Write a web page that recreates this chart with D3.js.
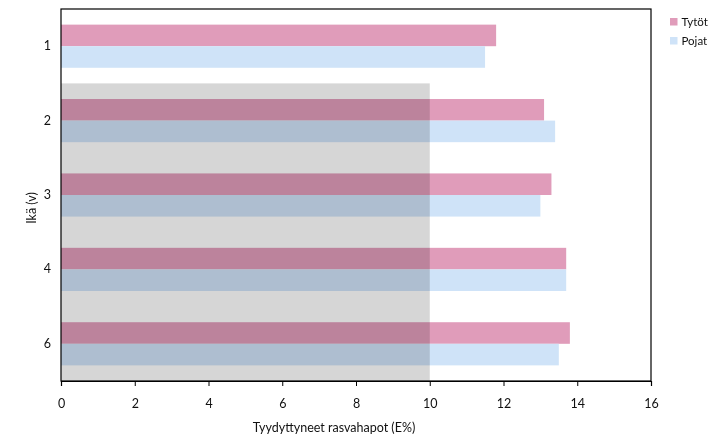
<!DOCTYPE html>
<html><head><meta charset="utf-8">
<script src="https://cdn.jsdelivr.net/npm/d3@7"></script>
<style>body{margin:0;background:#fff}svg{display:block}text{font-family:Lato,"Open Sans",sans-serif}</style>
</head><body>
<svg id="c" width="716" height="442"></svg>
<script>
const categories = ["1","2","3","4","6"];
const tytot = [11.8, 13.1, 13.3, 13.7, 13.8];
const pojat = [11.5, 13.4, 13.0, 13.7, 13.5];
const seriesNames = ["Tytöt","Pojat"];
const seriesColors = ["#e09cba","#cfe3f8"];
const xTicks = [0,2,4,6,8,10,12,14,16];
const refValue = 10;
const refCategories = ["2","3","4","6"];

const svg = d3.select("#c");
const m = {l:61, r:65, t:9, b:61};
const W = 716, H = 442;
const x = d3.scaleLinear().domain([0,16]).range([m.l, W-m.r]);
const y = d3.scaleBand().domain(categories).range([m.t, H-m.b]).paddingInner(0.42).paddingOuter(0.21);
const y0 = d3.scaleBand().domain(categories).range([m.t, H-m.b]);
const ys = d3.scaleBand().domain(seriesNames).range([0, y.bandwidth()]);

const data = categories.map((c,i)=>({c, v:[tytot[i], pojat[i]]}));
const g = svg.append("g");
data.forEach(d=>{
  seriesNames.forEach((s,j)=>{
    g.append("rect").attr("x", x(0)).attr("y", y(d.c)+ys(s))
     .attr("width", x(d.v[j])-x(0)).attr("height", ys.bandwidth())
     .attr("fill", seriesColors[j]);
  });
});
// grey reference region (multiplied over bars)
const ry0 = y0(refCategories[0]);
const ry1 = y0(refCategories[refCategories.length-1]) + y0.bandwidth();
svg.append("rect").attr("x", x(0)).attr("y", ry0).attr("width", x(refValue)-x(0)).attr("height", ry1-ry0)
  .attr("fill","#d6d6d6").style("mix-blend-mode","multiply");

// frame
svg.append("rect").attr("x", x(0)).attr("y", m.t).attr("width", x(16)-x(0)).attr("height", H-m.b-m.t)
  .attr("fill","none").attr("stroke","#000").attr("stroke-width",1.2);

// x axis
const xa = svg.append("g").attr("transform",`translate(0,${H-m.b})`)
  .call(d3.axisBottom(x).tickValues(xTicks).tickSize(5).tickFormat(d3.format("d")));
xa.select(".domain").attr("stroke-width",1.2);
xa.selectAll("text").attr("font-size",12.5).attr("font-family","Lato").attr("dy","1.55em").attr("fill","#111");
// y axis labels
const ya = svg.append("g").attr("transform",`translate(${x(0)},0)`)
  .call(d3.axisLeft(y0).tickSize(0).tickPadding(10));
ya.select(".domain").remove();
ya.selectAll("text").attr("font-size",12.5).attr("font-family","Lato").attr("fill","#111");

svg.append("text").attr("x", 334).attr("y", 432).attr("text-anchor","middle").attr("font-size",12.5).attr("fill","#111")
  .text("Tyydyttyneet rasvahapot (E%)");
svg.append("text").attr("transform","translate(36,208) rotate(-90)").attr("text-anchor","middle").attr("font-size",12.5).attr("fill","#111")
  .text("Ikä (v)");

// legend
const lg = svg.append("g").attr("transform","translate(670,18)");
seriesNames.forEach((s,i)=>{
  lg.append("rect").attr("x",0).attr("y",i*19).attr("width",7.5).attr("height",7.5).attr("fill",seriesColors[i]);
  lg.append("text").attr("x",11.5).attr("y",i*19+8).attr("font-size",11.5).attr("fill","#111").text(s);
});
</script>
</body></html>
